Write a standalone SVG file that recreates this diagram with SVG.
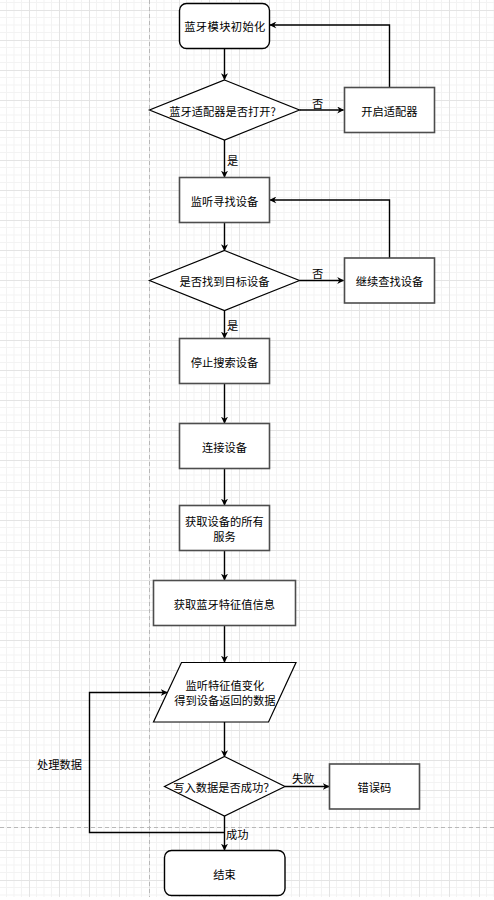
<svg xmlns="http://www.w3.org/2000/svg" width="494" height="900" viewBox="0 0 494 900">
<defs>
<pattern id="grid" x="29" y="10" width="30" height="30" patternUnits="userSpaceOnUse">
<path d="M7.5 0V30M15 0V30M22.5 0V30M0 7.5H30M0 15H30M0 22.5H30" stroke="#f3f3f3" stroke-width="1" fill="none"/>
<path d="M0.5 0V30M0 0.5H30" stroke="#e4e4e4" stroke-width="1" fill="none"/>
</pattern>
<marker id="arr" viewBox="0 0 10 10" refX="9" refY="5" markerWidth="7" markerHeight="7" markerUnits="userSpaceOnUse" orient="auto">
<path d="M0 0L10 5L0 10L3 5Z" fill="#000"/>
</marker>
<style>
.box{fill:#fff;stroke:#4d4d4d;stroke-width:1.6}
.rnd{fill:#fff;stroke:#000;stroke-width:1.4}
.dia{fill:#fff;stroke:#000;stroke-width:1.2}
.t{font-family:"Noto Sans CJK SC","Noto Sans",sans-serif;font-size:11.25px;fill:#000;text-anchor:middle;dominant-baseline:central}
.lb{font-family:"Noto Sans CJK SC","Noto Sans",sans-serif;font-size:11.25px;fill:#000;dominant-baseline:central}
.c{fill:none;stroke:#000;stroke-width:1.4}
</style>
</defs>
<rect x="0" y="0" width="494" height="897" fill="#fff"/>
<rect x="0" y="0" width="494" height="897" fill="url(#grid)"/>
<rect x="0" y="897" width="494" height="3" fill="#fff"/>
<path d="M149.5 0V897" stroke="#b8b8b8" stroke-width="1" stroke-dasharray="4 3" fill="none"/>
<path d="M0 827.5H494" stroke="#b8b8b8" stroke-width="1" stroke-dasharray="4 3" fill="none"/>

<g id="connectors">
<path class="c" d="M224.5 48.5V79.5" marker-end="url(#arr)"/>
<path class="c" d="M299.5 110H343.5" marker-end="url(#arr)"/>
<path class="c" d="M389.5 87.5V25H270" marker-end="url(#arr)"/>
<path class="c" d="M224.5 140V177" marker-end="url(#arr)"/>
<path class="c" d="M224.5 222.5V250.5" marker-end="url(#arr)"/>
<path class="c" d="M299.5 280.5H343.5" marker-end="url(#arr)"/>
<path class="c" d="M389.5 258V200H270" marker-end="url(#arr)"/>
<path class="c" d="M224.5 310.5V338" marker-end="url(#arr)"/>
<path class="c" d="M224.5 383.5V423" marker-end="url(#arr)"/>
<path class="c" d="M224.5 468.5V505" marker-end="url(#arr)"/>
<path class="c" d="M224.5 550.5V580" marker-end="url(#arr)"/>
<path class="c" d="M224.5 625.5V662" marker-end="url(#arr)"/>
<path class="c" d="M224.5 722V756.5" marker-end="url(#arr)"/>
<path class="c" d="M285 786.5H329" marker-end="url(#arr)"/>
<path class="c" d="M224.5 816V850" marker-end="url(#arr)"/>
<path class="c" d="M224.5 832.5H89.5V692.5H167" marker-end="url(#arr)"/>
<text class="lb" x="312" y="102.5">否</text>
<text class="lb" x="227" y="159.5">是</text>
<text class="lb" x="312" y="272.5">否</text>
<text class="lb" x="227" y="325">是</text>
<text class="lb" x="292" y="778">失败</text>
<text class="lb" x="226" y="834">成功</text>
<text class="t" x="59.5" y="764">处理数据</text>
</g>

<g id="n_init">
<rect class="rnd" x="179.5" y="3.5" width="90" height="45" rx="7"/>
<text class="t" x="225" y="26" letter-spacing="0.4">蓝牙模块初始化</text>
</g>
<g id="n_adapter_open">
<path class="dia" d="M224.5 80L299.5 110L224.5 140L149.5 110Z"/>
<text class="t" x="222.5" y="110.5">蓝牙适配器是否打开?</text>
</g>
<g id="n_enable">
<rect class="box" x="344.5" y="87.5" width="90" height="45"/>
<text class="t" x="389.5" y="110.5">开启适配器</text>
</g>
<g id="n_listen">
<rect class="box" x="179.5" y="177.5" width="90" height="45"/>
<text class="t" x="224.5" y="200.5">监听寻找设备</text>
</g>
<g id="n_found">
<path class="dia" d="M224.5 250.5L299.5 280.5L224.5 310.5L149.5 280.5Z"/>
<text class="t" x="224.5" y="281">是否找到目标设备</text>
</g>
<g id="n_continue">
<rect class="box" x="344.5" y="258" width="90" height="45"/>
<text class="t" x="389.5" y="281">继续查找设备</text>
</g>
<g id="n_stop">
<rect class="box" x="179.5" y="338.5" width="90" height="45"/>
<text class="t" x="224.5" y="361.5">停止搜索设备</text>
</g>
<g id="n_connect">
<rect class="box" x="179.5" y="423.5" width="90" height="45"/>
<text class="t" x="224.5" y="446.5">连接设备</text>
</g>
<g id="n_services">
<rect class="box" x="179.5" y="505.5" width="90" height="45"/>
<text class="t" x="224.5" y="521">获取设备的所有</text>
<text class="t" x="224.5" y="535.5">服务</text>
</g>
<g id="n_chars">
<rect class="box" x="153.5" y="580.5" width="142" height="45"/>
<text class="t" x="224.5" y="603.5">获取蓝牙特征值信息</text>
</g>
<g id="n_notify">
<path class="dia" d="M181.5 662.5H296L268.5 722H153.5Z"/>
<text class="t" x="225" y="685">监听特征值变化</text>
<text class="t" x="225" y="699.5">得到设备返回的数据</text>
</g>
<g id="n_write">
<path class="dia" d="M224.5 756.5L285 786.5L224.5 816L164.5 786.5Z"/>
<text class="t" x="224" y="787">写入数据是否成功？</text>
</g>
<g id="n_error">
<rect class="box" x="329.5" y="764" width="90" height="45"/>
<text class="t" x="374.5" y="787">错误码</text>
</g>
<g id="n_end">
<rect class="rnd" x="164.5" y="850.5" width="120.5" height="45" rx="7"/>
<text class="t" x="224.5" y="873.5">结束</text>
</g>
</svg>
